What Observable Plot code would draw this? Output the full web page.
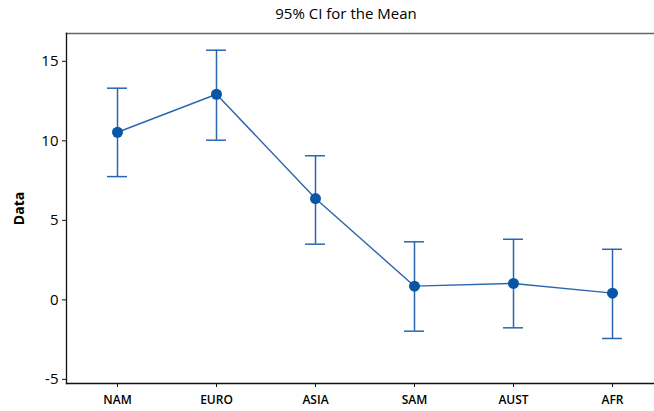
<!DOCTYPE html>
<html><head><meta charset="utf-8">
<script src="https://cdn.jsdelivr.net/npm/d3@7"></script>
<script src="https://cdn.jsdelivr.net/npm/@observablehq/plot@0.6"></script>
<style>
body{margin:0;background:#fff;font-family:"Open Sans",sans-serif;}
#wrap{position:relative;width:654px;height:411px;}
#title{position:absolute;top:3px;left:0;width:692px;text-align:center;font-size:15px;color:#000;}
#chart{position:absolute;top:0;left:0;}
#chart svg [aria-label="y-axis label"] text{font-weight:700;font-size:14px;fill:#000;}
</style></head>
<body><div id="wrap"><div id="chart"></div><div id="title">95% CI for the Mean</div></div>
<script>
const categories = ["NAM","EURO","ASIA","SAM","AUST","AFR"];
const means = [10.54, 12.93, 6.37, 0.86, 1.03, 0.42];
const upper = [13.31, 15.70, 9.06, 3.65, 3.81, 3.18];
const lower = [7.75, 10.04, 3.50, -1.97, -1.76, -2.43];
const yTicks = [-5, 0, 5, 10, 15];

const data = categories.map((c,i)=>({cat:c, mean:means[i], hi:upper[i], lo:lower[i]}));
const blue = "#0a56a6";
const barBlue = "#2a66ad";

const chart = Plot.plot({
  width: 654, height: 411,
  marginTop: 33, marginLeft: 66, marginRight: 0, marginBottom: 28,
  style: {fontFamily: "'Open Sans', sans-serif", background: "transparent", overflow: "visible", color: "#000"},
  x: {type: "band", domain: categories, range: [26.5, 702.4], padding: 0.8},
  y: {domain: [-5.28, 16.75], range: [383.3, 33]},
  marks: [
    Plot.frame({anchor: "top", stroke: "#666", strokeWidth: 1.6}),
    Plot.frame({anchor: "left", stroke: "#111", strokeWidth: 1.3}),
    Plot.frame({anchor: "bottom", stroke: "#111", strokeWidth: 1.3}),
    Plot.axisY({ticks: yTicks, tickFormat: d => String(d), tickSize: 4, tickPadding: 4, fontSize: 15, label: "Data", labelAnchor: "center", labelOffset: 52, labelArrow: "none", stroke: "#111"}),
    Plot.axisX({tickSize: 4, tickPadding: 8, fontSize: 12, fontWeight: 600, label: null, stroke: "#111"}),
    Plot.ruleX(data, {x: "cat", y1: "lo", y2: "hi", stroke: barBlue, strokeWidth: 1.5}),
    Plot.tickY(data, {x: "cat", y: "hi", stroke: barBlue, strokeWidth: 1.5}),
    Plot.tickY(data, {x: "cat", y: "lo", stroke: barBlue, strokeWidth: 1.5}),
    Plot.line(data, {x: "cat", y: "mean", stroke: barBlue, strokeWidth: 1.4}),
    Plot.dot(data, {x: "cat", y: "mean", r: 5.5, fill: blue, stroke: "none"})
  ]
});
document.getElementById("chart").appendChild(chart);
</script></body></html>
